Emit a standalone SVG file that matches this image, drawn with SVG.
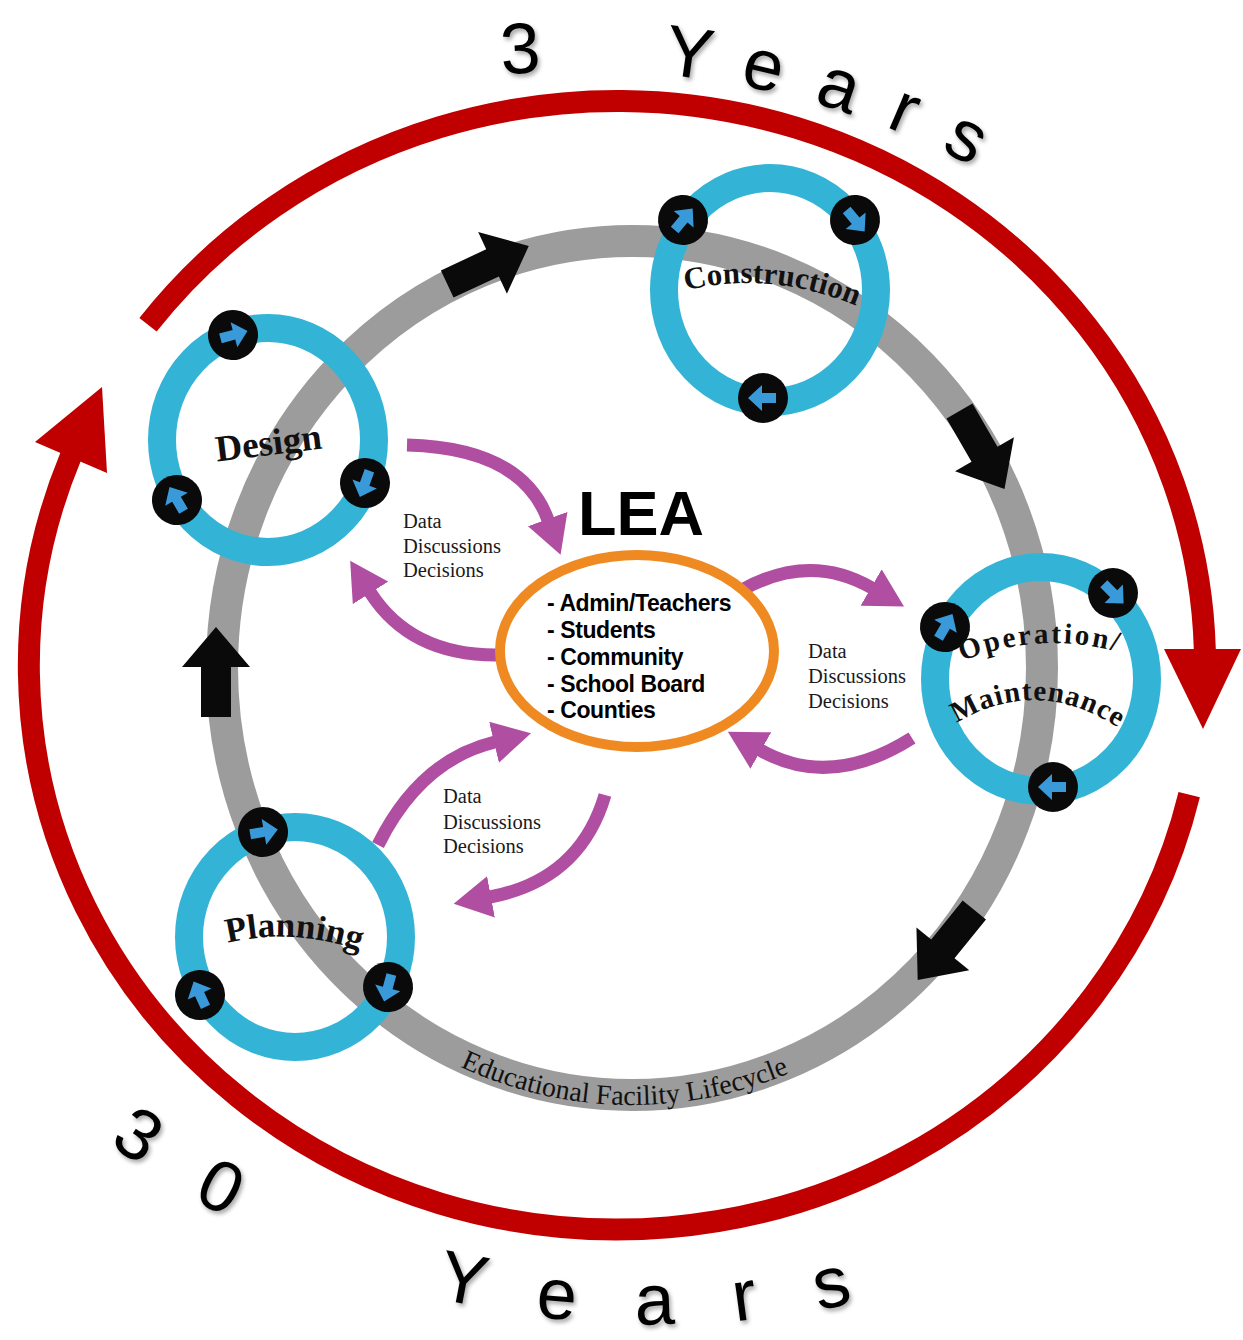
<svg xmlns="http://www.w3.org/2000/svg" width="1243" height="1340" viewBox="0 0 1243 1340">
<defs>
<style>
.red{fill:none;stroke:#c00000;stroke-width:22}
.redhead{fill:#c00000}
.gray{fill:none;stroke:#9c9c9c;stroke-width:32}
.blk{fill:#0a0a0a}
.ring{fill:none;stroke:#33b4d6;stroke-width:28}
.pur{fill:none;stroke:#b04ea2;stroke-width:13;marker-end:url(#ph)}
.lbl{font-family:"Liberation Serif","Times New Roman",serif;font-weight:bold;fill:#111}
.ddd{font-family:"Liberation Serif","Times New Roman",serif;font-size:20.5px;fill:#1a1a1a}
.yrs{font-family:"Liberation Sans",Arial,sans-serif;font-size:72px;fill:#000}
.lea{font-family:"Liberation Sans",Arial,sans-serif;font-weight:bold;fill:#000}
.life{font-family:"Liberation Serif","Times New Roman",serif;font-size:28px;fill:#111}
</style>
<marker id="ph" markerUnits="userSpaceOnUse" markerWidth="38" markerHeight="42" viewBox="0 0 38 42" refX="1" refY="21" orient="auto"><path d="M0,0 L38,21 L0,42 z" fill="#b04ea2"/></marker>
<g id="bt"><circle r="25" fill="#0a0a0a"/><polygon points="-13,-5 1,-5 1,-13 15,0 1,13 1,5 -13,5" fill="#3a9ad9"/></g>
<polygon id="ba" points="-45,-15 5,-15 5,-34 45,0 5,34 5,15 -45,15"/>
<filter id="sh" x="-20%" y="-20%" width="140%" height="140%"><feDropShadow dx="2" dy="3" stdDeviation="2" flood-color="#000" flood-opacity="0.35"/></filter>
<path id="topArc" d="M 169 182.5 A 832 832 0 0 1 1222.4 368.2"/>
<path id="botArc" d="M -138.1 865.5 A 917 917 0 0 0 1245.4 1109.5"/>
<path id="lifeArc" d="M 212 668 A 420 437 0 0 0 1052 668"/>
<path id="conArc" d="M 680 292 Q 768 268 862 308"/>
<path id="opArc" d="M 950 666 Q 1040 626 1132 656"/>
<path id="mtArc" d="M 952 726 Q 1037 672 1123 731"/>
<path id="plArc" d="M 220 945 Q 292 925 367 953"/>
</defs>
<rect width="1243" height="1340" fill="#fff"/>

<g id="connectors">
  <g id="cycle-30-years">
    <path class="red" d="M 148 324.8 A 588 564 0 0 1 1204.8 649.3"/>
    <polygon class="redhead" points="1164,649 1241,649 1203,729"/>
    <path class="red" d="M 1189.2 794.7 A 588 564 0 1 1 70.7 456.5"/>
    <polygon class="redhead" points="35,442 107,473 102,387"/>
  </g>
  <g id="lifecycle-ring">
    <ellipse class="gray" cx="632" cy="668" rx="410" ry="427"/>
    <use href="#ba" class="blk" transform="translate(488,265) rotate(-25)"/>
    <use href="#ba" class="blk" transform="translate(982,450) rotate(60)"/>
    <use href="#ba" class="blk" transform="translate(946,945) rotate(129)"/>
    <use href="#ba" class="blk" transform="translate(216,672) rotate(-90)"/>
    <text class="life"><textPath href="#lifeArc" startOffset="665" text-anchor="middle">Educational Facility Lifecycle</textPath></text>
  </g>
  <g id="lea-links">
    <path class="pur" d="M 407 445 Q 522 448 548 520"/>
    <path class="pur" d="M 496 655 Q 410 655 370 592"/>
    <path class="pur" d="M 742 590 Q 810 552 872 588"/>
    <path class="pur" d="M 912 738 Q 830 790 760 750"/>
    <path class="pur" d="M 378 845 Q 420 760 495 742"/>
    <path class="pur" d="M 605 795 Q 580 880 490 897"/>
  </g>
  <g id="link-labels" class="ddd">
    <text x="403" y="528">Data</text>
    <text x="403" y="553">Discussions</text>
    <text x="403" y="577">Decisions</text>
    <text x="808" y="658">Data</text>
    <text x="808" y="683">Discussions</text>
    <text x="808" y="708">Decisions</text>
    <text x="443" y="803">Data</text>
    <text x="443" y="829">Discussions</text>
    <text x="443" y="853">Decisions</text>
  </g>
</g>

<g id="node-design">
  <ellipse class="ring" cx="268" cy="440" rx="106" ry="112"/>
  <use href="#bt" transform="translate(233,335) rotate(-15)"/>
  <use href="#bt" transform="translate(365,483) rotate(110)"/>
  <use href="#bt" transform="translate(177,500) rotate(-120)"/>
  <text class="lbl" x="270" y="455" font-size="37" text-anchor="middle" transform="rotate(-7 270 455)">Design</text>
</g>

<g id="node-construction">
  <ellipse class="ring" cx="770" cy="290" rx="106" ry="112"/>
  <use href="#bt" transform="translate(683,220) rotate(-50)"/>
  <use href="#bt" transform="translate(855,220) rotate(50)"/>
  <use href="#bt" transform="translate(763,398) rotate(180)"/>
  <text class="lbl" font-size="31"><textPath href="#conArc" startOffset="50%" text-anchor="middle">Construction</textPath></text>
</g>

<g id="node-operation">
  <ellipse class="ring" cx="1041" cy="679" rx="106" ry="112"/>
  <use href="#bt" transform="translate(945,627) rotate(-60)"/>
  <use href="#bt" transform="translate(1113,593) rotate(45)"/>
  <use href="#bt" transform="translate(1053,787) rotate(180)"/>
  <text class="lbl" font-size="29" letter-spacing="2.5"><textPath href="#opArc" startOffset="50%" text-anchor="middle">Operation/</textPath></text>
  <text class="lbl" font-size="29" letter-spacing="1"><textPath href="#mtArc" startOffset="50%" text-anchor="middle">Maintenance</textPath></text>
</g>

<g id="node-planning">
  <ellipse class="ring" cx="295" cy="937" rx="106" ry="110"/>
  <use href="#bt" transform="translate(263,832) rotate(-10)"/>
  <use href="#bt" transform="translate(388,987) rotate(105)"/>
  <use href="#bt" transform="translate(200,995) rotate(-115)"/>
  <text class="lbl" font-size="35"><textPath href="#plArc" startOffset="50%" text-anchor="middle">Planning</textPath></text>
</g>

<g id="node-lea">
  <text class="lea" x="641" y="535" font-size="63" text-anchor="middle">LEA</text>
  <ellipse cx="637" cy="651" rx="137" ry="96" fill="#fff" stroke="#ef8a22" stroke-width="10"/>
  <g class="lea" font-size="23" letter-spacing="-0.4">
    <text x="547" y="611">- Admin/Teachers</text>
    <text x="547" y="638">- Students</text>
    <text x="547" y="665">- Community</text>
    <text x="547" y="692">- School Board</text>
    <text x="547" y="718">- Counties</text>
  </g>
</g>

<g id="cycle-labels" filter="url(#sh)">
  <text class="yrs" letter-spacing="36"><textPath href="#topArc" startOffset="352">3<tspan dx="30"> Years</tspan></textPath></text>
  <text class="yrs" letter-spacing="60"><textPath href="#botArc" startOffset="374">30<tspan dx="85"> Years</tspan></textPath></text>
</g>
</svg>
